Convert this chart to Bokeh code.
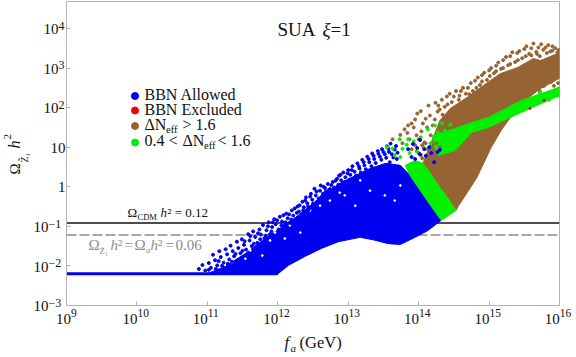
import numpy as np
from bokeh.core.properties import value
from bokeh.embed import file_html
from bokeh.models import FixedTicker, Range1d
from bokeh.plotting import figure
from bokeh.resources import INLINE

x_ticks_exp = [9, 10, 11, 12, 13, 14, 15, 16]
x_tick_sups = ["9", "10", "11", "12", "13", "14", "15", "16"]
y_ticks_exp = [-3, -2, -1, 0, 1, 2, 3, 4]
y_tick_bases = ["10", "10", "10", "1", "10", "10", "10", "10"]
y_tick_sups = ["−3", "−2", "−1", "", "", "2", "3", "4"]
omega_cdm = 0.12
omega_half = 0.06

flat_x = [9.0, 12.0]
flat_y = [-2.2, -2.2]

blue_dense = [(10.97,-2.22),(11.99,-2.22),(12.15,-1.99),(12.39,-1.76),(12.62,-1.56),(12.86,-1.39),
 (13.17,-1.28),(13.35,-1.34),(13.57,-1.44),(13.74,-1.46),(13.95,-1.28),(14.13,-1.11),(14.32,-0.85),
 (14.09,-0.27),(13.88,0.28),(13.74,0.54),(13.53,0.59),(13.31,0.46),(13.1,0.28),(12.88,0.08),
 (12.67,-0.17),(12.46,-0.48),(12.25,-0.78),(12.03,-1.06),(11.78,-1.36),(11.54,-1.69),(11.25,-2.02)]
green_strip = [(14.32,-0.85),(14.53,-0.60),(14.41,-0.27),(14.28,0.03),(14.16,0.36),(14.06,0.59),
 (13.95,0.66),(13.81,0.54),(13.88,0.28),(14.09,-0.27)]
brown_dense = [(14.53,-0.60),(14.56,-0.5),(14.82,0.21),(15.03,0.99),(15.17,1.42),(15.27,1.67),(15.51,2.18),
 (15.73,2.48),(16,2.74),(16,3.39),(15.73,3.19),(15.63,3.24),(15.4,3.01),(15.16,2.86),(14.92,2.56),
 (14.69,2.26),(14.45,1.98),(14.3,1.67),(14.19,1.17),(14.06,0.59),(14.16,0.36),(14.28,0.03),(14.41,-0.27)]
green_band = [(14.19,1.29),(14.52,1.47),(14.75,1.62),(14.99,1.75),(15.46,2.18),(15.94,2.48),(16,2.53),
 (16,2.28),(15.94,2.26),(15.46,1.88),(14.99,1.5),(14.75,1.37),(14.52,0.92),(14.28,0.79)]

blue_sparse = [(10.88,-2.08),(10.93,-1.98),(10.97,-2.12),(11.02,-1.93),(11.05,-2.05),(11.08,-1.72),(11.11,-1.86),
 (11.14,-1.99),(11.17,-1.63),(11.19,-1.78),(11.23,-1.92),(11.26,-1.58),(11.28,-1.71),(11.31,-1.84),(11.33,-1.49),
 (11.36,-1.63),(11.38,-1.76),(11.42,-1.39),(11.44,-1.55),(11.47,-1.68),(11.49,-1.33),(11.52,-1.47),(11.55,-1.59),
 (11.58,-1.2),(11.6,-1.36),(11.63,-1.5),(11.65,-1.13),(11.68,-1.27),(11.71,-1.42),(11.74,-1.08),(11.76,-1.21),
 (11.79,-0.97),(11.81,-1.3),(11.84,-1.1),(11.87,-0.9),(11.89,-1.2),(11.92,-1.02),(11.95,-0.82),(11.97,-0.95),
 (12.01,-1.08),(12.03,-0.76),(12.06,-0.88),(12.09,-0.98),(12.12,-0.68),(12.14,-0.8),(12.17,-0.91),(12.2,-0.6),
 (12.22,-0.73),(12.25,-0.84),(12.28,-0.5),(12.3,-0.63),(12.33,-0.74),(12.35,-0.38),(12.37,-0.52),(12.4,-0.27),
 (12.42,-0.42),(12.44,-0.58),(12.47,-0.18),(12.49,-0.33),(12.52,-0.05),(12.54,-0.22),(12.56,-0.38),(12.6,-0.1),
 (12.62,-0.26),(12.65,0.0),(12.68,-0.12),(12.71,0.07),(12.74,-0.06),(12.78,0.12),(12.8,-0.02),(12.84,0.2),
 (12.87,0.28),(12.9,0.16),(12.93,0.36),(12.96,0.24),(13.0,0.42),(13.03,0.3),(13.06,0.52),(13.09,0.38),(13.13,0.59),
 (13.16,0.46),(13.2,0.68),(13.23,0.54),(13.27,0.76),(13.3,0.62),(13.34,0.84),(13.37,0.7),(13.42,0.9),(13.45,0.76),
 (13.48,0.95),(13.52,0.82),(13.55,1.02),(13.58,0.88),(13.6,1.09),(13.64,0.74),(13.68,1.03),(13.7,0.86),
 (11.02,-2.1),(11.12,-2.08),(11.16,-1.88),(11.21,-2.0),(11.29,-1.95),(11.35,-1.9),(11.4,-1.7),(11.43,-1.86),
 (11.5,-1.62),(11.48,-1.8),(11.56,-1.72),(11.53,-1.38),(11.61,-1.25),(11.66,-1.44),(11.69,-1.6),(11.72,-1.18),
 (11.75,-1.33),(11.83,-1.24),(11.86,-1.0),(11.91,-1.13),(11.93,-0.9),(11.99,-0.85),(12.05,-0.98),(12.08,-0.72),
 (12.11,-0.9),(12.16,-0.7),(12.19,-0.83),(12.24,-0.55),(12.27,-0.66),(12.31,-0.47),(12.36,-0.6),(12.39,-0.35),
 (12.43,-0.5),(12.46,-0.25),(12.5,-0.43),(12.55,-0.12),(12.58,-0.3),(12.61,0.03),(12.64,-0.18),(12.67,-0.03),
 (12.72,-0.09),(12.76,0.04),(12.82,0.15),(12.86,0.05),(12.89,0.3),(12.95,0.12),(12.99,0.34),(13.02,0.18),
 (13.05,0.42),(13.11,0.28),(13.15,0.52),(13.18,0.36),(13.22,0.62),(13.25,0.44),(13.29,0.7),(13.33,0.52),
 (13.36,0.78),(13.39,0.6),(13.43,0.83),(13.47,0.68),(13.5,0.88),(13.54,0.73),(13.57,0.96),(13.62,0.82),
 (13.66,0.94),(13.59,0.62),(13.69,0.7)]
brown_sparse = [(13.63,1.2),(13.74,1.31),(13.77,1.1),(13.84,1.36),(13.87,1.2),(13.85,1.55),(13.93,1.5),(13.97,1.3),(13.95,1.7),
 (14.03,1.91),(14.06,1.6),(14.04,1.4),(14.08,1.12),(14.03,0.8),(14.14,2.05),(14.16,1.8),(14.12,1.5),(14.17,1.3),(14.13,0.95),
 (14.24,2.12),(14.27,1.9),(14.23,1.7),(14.26,1.2),(14.22,0.85),(14.33,2.2),(14.37,2.02),(14.34,1.82),(14.44,2.35),(14.47,2.14),
 (14.53,2.42),(14.57,2.2),(14.63,2.5),(14.67,2.35),(14.74,2.62),(14.77,2.42),(14.84,2.76),(14.87,2.57),(14.93,2.88),(14.97,2.7),
 (15.03,3.0),(15.07,2.87),(15.13,3.14),(15.17,2.98),(15.24,3.28),(15.27,3.07),(15.33,3.4),(15.37,3.15),(15.43,3.43),(15.47,3.25),
 (15.53,3.55),(15.57,3.36),(15.63,3.62),(15.67,3.41),(15.74,3.6),(15.77,3.46),(15.72,3.3),(15.84,3.58),(15.87,3.42),(15.94,3.5),(15.97,3.4),
 (15.5,2.25),(15.58,2.55),(15.62,2.4),(15.68,2.6),(15.72,2.42),(15.78,2.55),(15.83,2.7),(15.88,2.65),(15.92,2.55),(15.98,2.62),
 (14.1,1.72),(14.2,1.55),(14.3,1.95),(14.28,2.05),(14.4,2.28),(14.41,2.08),(14.5,2.28),(14.6,2.42),(14.58,2.3),(14.7,2.5),
 (14.72,2.34),(14.8,2.68),(14.82,2.5),(14.9,2.82),(14.9,2.66),(15.0,2.94),(15.01,2.8),(15.1,3.06),(15.1,2.92),(15.2,3.2),
 (15.2,3.0),(15.3,3.3),(15.3,3.1),(15.4,3.38),(15.41,3.2),(15.5,3.48),(15.52,3.3),(15.6,3.5),(15.6,3.32),(15.7,3.52),
 (15.68,3.36),(15.8,3.52),(15.82,3.38),(15.9,3.55),(15.9,3.44),(15.99,3.46),(14.0,1.2),(13.8,1.45),(13.9,1.6),(13.98,1.85)]
green_sparse = [(13.55,1.0),(13.63,0.96),(13.66,0.8),(13.73,1.2),(13.77,0.96),(13.74,0.75),(13.83,1.06),(13.87,0.85),(13.85,1.2),
 (13.93,1.15),(13.97,0.9),(14.03,1.25),(14.07,1.0),(14.13,1.45),(14.17,1.1),(14.23,1.55),(14.27,1.38),(14.24,1.0),(14.33,1.6),(14.37,1.42),
 (14.45,1.57),(15.85,2.2),(15.72,2.38),(15.5,2.15),(15.3,2.0)]
mix_brown = [(13.9,0.95),(14.0,0.85),(14.05,1.05),(14.12,0.7),(14.2,0.95),(14.22,0.72),(14.15,0.9),(13.95,1.05),
 (14.1,1.1),(14.25,1.1),(14.3,1.0),(14.05,0.72)]
mix_blue = [(13.85,0.95),(13.9,0.75),(13.92,1.08),(13.98,0.98),(14.02,0.82),(14.08,0.95),(14.1,0.78),(14.15,1.0),
 (14.18,0.85),(14.22,0.62),(14.27,0.88),(13.95,0.7),(14.3,0.93),(14.02,1.18)]
red_sparse = [(15.58,1.98),(15.78,2.18)]
blue_gaps = [(11.25,-1.97),(11.35,-1.92),(11.54,-1.82),(11.61,-1.61),(11.89,-1.36),(11.96,-1.16),(12.17,-0.98),
 (12.32,-0.73),(12.46,-0.6),(12.74,-0.35),(12.95,-0.22),(13.1,-0.48),(13.31,-0.1),(13.52,-0.22),(13.66,-0.35),
 (13.74,0.03),(13.17,0.16),(12.88,-0.15),(12.6,-0.48),(12.32,-1.16),(12.1,-1.31),(11.78,-1.74)]

BLUE, RED, BROWN, GREEN = "#0000f0", "#f00000", "#966432", "#00f000"
INK, SERIF = "#111111", "Liberation Serif"
DOT = 3

def Y(py):
    return 10 ** (4 - (py - 28) / 39.55)

def cols(pts):
    a = np.array(pts, dtype=float)
    return 10 ** a[:, 0], 10 ** a[:, 1]

def X(px):
    return 10 ** (9 + (px - 66.5) / 70.4)

p = figure(width=576, height=357, output_backend="svg", toolbar_location=None,
           x_axis_type="log", y_axis_type="log",
           x_range=Range1d(10 ** 9, 10 ** 16), y_range=Range1d(Y(305), Y(1)),
           min_border_left=66, min_border_right=17, min_border_top=1, min_border_bottom=52,
           styles={"position": "absolute", "left": "0px", "top": "0px"})
p.grid.visible = False
p.outline_line_color = "#b4b4b4"
for ax in (p.xaxis[0], p.yaxis[0]):
    ax.axis_line_color = "#b4b4b4"
    ax.major_tick_line_color = "#b4b4b4"
    ax.major_tick_in = 4
    ax.major_tick_out = 0
    ax.minor_tick_line_color = None
    ax.major_label_text_font_size = "1px"
p.xaxis[0].ticker = FixedTicker(ticks=[10.0 ** e for e in x_ticks_exp])
p.yaxis[0].ticker = FixedTicker(ticks=[10.0 ** e for e in y_ticks_exp])
p.xaxis[0].major_label_overrides = {10.0 ** e: " " for e in x_ticks_exp}
p.yaxis[0].major_label_overrides = {10.0 ** e: " " for e in y_ticks_exp}

p.line([10 ** 9, 10 ** 16], [omega_cdm, omega_cdm], line_color="#4d4d4d", line_width=2)
p.line([10 ** 9, 10 ** 16], [omega_half, omega_half], line_color="#a8a8a8", line_width=2, line_dash="10 3")

fx, fy = 10 ** np.array(flat_x), 10 ** np.array(flat_y)
p.line(fx, fy, line_color=BLUE, line_width=3)
bx, by = cols(brown_dense)
p.patch(bx, by, fill_color=BROWN, line_color=BROWN, line_width=1)
bx, by = cols(brown_sparse)
p.scatter(bx, by, size=DOT, color=BROWN)
bx, by = cols(blue_dense)
p.patch(bx, by, fill_color=BLUE, line_color=BLUE, line_width=1)
bx, by = cols(blue_gaps)
p.scatter(bx, by, size=1.8, color="white")
bx, by = cols(blue_sparse)
p.scatter(bx, by, size=DOT, color=BLUE)
bx, by = cols(green_strip)
p.patch(bx, by, fill_color=GREEN, line_color=GREEN, line_width=1)
bx, by = cols(green_band)
p.patch(bx, by, fill_color=GREEN, line_color=GREEN, line_width=1)
bx, by = cols(green_sparse)
p.scatter(bx, by, size=DOT, color=GREEN)
bx, by = cols(mix_brown)
p.scatter(bx, by, size=DOT, color=BROWN)
bx, by = cols(mix_blue)
p.scatter(bx, by, size=DOT, color=BLUE)
bx, by = cols(red_sparse)
p.scatter(bx, by, size=2, color=RED)

for py, c in [(95.5, BLUE), (110, RED), (125.5, BROWN), (142, GREEN)]:
    p.scatter([X(135)], [Y(py)], size=7, color=c)

# a clear sheet over the plot carries the texts, so that those outside the frame are not clipped
t = figure(width=576, height=357, output_backend="svg", toolbar_location=None,
           x_range=Range1d(0, 576), y_range=Range1d(357, 0),
           min_border=0, outline_line_color=None, background_fill_color=None, border_fill_color=None,
           styles={"position": "absolute", "left": "0px", "top": "0px"})
t.grid.visible = False
t.axis.visible = False

BASE_SHIFT = 0.35

def txt(px, py, s, size, color=INK, style="normal", angle=0.0, align="left"):
    if angle:
        px = px - BASE_SHIFT * size
    else:
        py = py - BASE_SHIFT * size
    t.text([px], [py], text=[s], text_font=value(SERIF), text_font_size=value(f"{size}px"),
           text_color=color, text_font_style=style, angle=angle,
           text_baseline="alphabetic", text_align=align)

# tick labels
for e, sup in zip(x_ticks_exp, x_tick_sups):
    tick_px = 66.5 + (e - 9) * 70.4
    shift = 4 if len(sup) == 1 else 0
    txt(tick_px + shift, 324, "10", 15, align="right")
    txt(tick_px + shift, 317, sup, 11.5)
for e, base, sup in zip(y_ticks_exp, y_tick_bases, y_tick_sups):
    tick_py = 28 + (4 - e) * 39.55
    right = 65 - (len(sup) * 7 + (3 if len(sup) == 2 else 0)) if sup else 65
    txt(right, tick_py + 6, base, 15, align="right")
    if sup:
        txt(right, tick_py + 1.5, sup, 12)

# legend text
txt(144, 100, "BBN Allowed", 16)
txt(144, 115, "BBN Excluded", 16)
txt(144, 130, "ΔN", 16)
txt(165.5, 133, "eff", 10.5)
txt(182, 130, ">", 16)
txt(195, 130, "1.6", 16)
txt(144, 146, "0.4", 16)
txt(168, 146, "<", 16)
txt(182, 146, "ΔN", 16)
txt(203.5, 149, "eff", 10.5)
txt(217, 146, "<", 16)
txt(230, 146, "1.6", 16)

# title
txt(277, 36, "SUA", 19)
txt(322, 36, "ξ", 19, style="italic")
txt(330, 36, "=1", 19)

# line annotations
txt(127, 217, "Ω", 13)
txt(137, 219, "CDM", 8.5)
txt(160, 217, "h", 13, style="italic")
txt(167, 217, "² = 0.12", 13)
G = "#8c8c8c"
txt(88, 250, "Ω", 15, G)
txt(99, 254, "Z̃₁", 9, G)
txt(110, 250, "h", 15, G, "italic")
txt(117.5, 250, "²", 15, G)
txt(124, 250, "=", 15, G)
txt(134, 250, "Ω", 15, G)
txt(145.5, 253, "a", 9, G, "italic")
txt(150, 250, "h", 15, G, "italic")
txt(157.5, 250, "²", 15, G)
txt(165, 250, "=", 15, G)
txt(175, 250, "0.06", 15, G)

# axis titles
txt(284, 348, "f", 16.5, style="italic")
txt(290, 351, "a", 11, style="italic")
txt(299, 348, "(GeV)", 16.5)
A = np.pi / 2
txt(20, 174, "Ω", 15, angle=A)
txt(27, 162, "Z̃₁", 10, angle=A)
txt(20, 148, "h", 16, style="italic", angle=A)
txt(11, 139, "2", 11, angle=A)

open("out.html", "w").write(file_html([p, t], INLINE))
